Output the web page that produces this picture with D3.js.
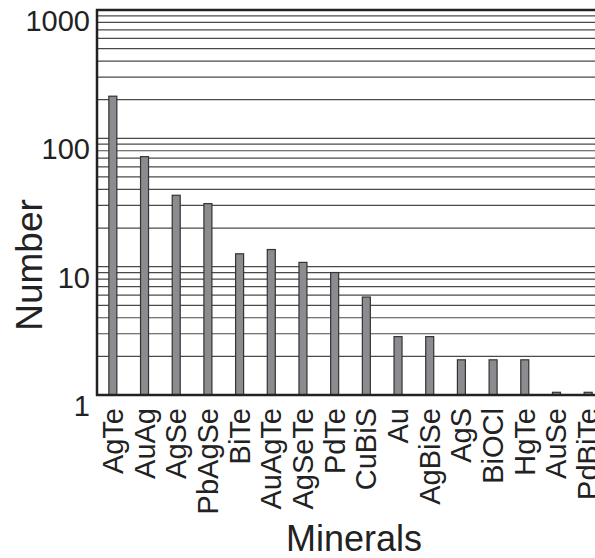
<!DOCTYPE html>
<html>
<head>
<meta charset="utf-8">
<script src="https://cdn.jsdelivr.net/npm/d3@7"></script>
<style>
	body { margin: 0; background: #fff; }
	svg text { font-family: 'Liberation Sans', Arial, sans-serif; fill: #222; }
</style>
</head>
<body>
<script>
const MINERALS = ['AgTe','AuAg','AgSe','PbAgSe','BiTe','AuAgTe','AgSeTe','PdTe','CuBiS','Au','AgBiSe','AgS','BiOCl','HgTe','AuSe','PdBiTe'];
const COUNTS = [213, 72, 36, 31, 12.6, 13.6, 10.8, 9, 5.8, 2.85, 2.85, 1.88, 1.88, 1.88, 1.05, 1.05];
const Y_TICKS = [1, 10, 100, 1000];

let svg = d3.select('body').append('svg')
	.attr('width', 595)
	.attr('height', 558);

let x = d3.scaleBand()
	.domain(MINERALS)
	.range([97, 604]);

let y = d3.scaleLog()
	.domain([1, 1000])
	.range([395, 10]);

// minor grid lines 1..1000
let gridValues = [];
for (let decade = 1; decade < 1000; decade *= 10) {
	for (let k = 2; k <= 10; k++) gridValues.push(k * decade);
}

svg.append('g')
	.selectAll('line')
	.data(gridValues)
	.enter()
	.append('line')
	.attr('x1', 97)
	.attr('x2', 595)
	.attr('y1', v => y(v))
	.attr('y2', v => y(v))
	.attr('stroke', '#4a4a4a')
	.attr('stroke-width', 1.2);

svg.append('g')
	.selectAll('rect')
	.data(MINERALS)
	.enter()
	.append('rect')
	.attr('x', m => x(m) + x.bandwidth() / 2 - 4)
	.attr('y', (m, i) => y(COUNTS[i]))
	.attr('width', 8)
	.attr('height', (m, i) => y(1) - y(COUNTS[i]))
	.attr('fill', '#8c8c90')
	.attr('stroke', '#333')
	.attr('stroke-width', 1.2);

// axis frame
svg.append('line')
	.attr('x1', 97).attr('x2', 97)
	.attr('y1', 9).attr('y2', 396)
	.attr('stroke', '#222').attr('stroke-width', 2.5);
svg.append('line')
	.attr('x1', 96).attr('x2', 595)
	.attr('y1', y(1)).attr('y2', y(1))
	.attr('stroke', '#222').attr('stroke-width', 2.5);
svg.append('line')
	.attr('x1', 96).attr('x2', 595)
	.attr('y1', y(1000)).attr('y2', y(1000))
	.attr('stroke', '#222').attr('stroke-width', 2.5);

svg.append('g')
	.selectAll('text')
	.data(Y_TICKS)
	.enter()
	.append('text')
	.attr('x', 90)
	.attr('y', v => y(v) + 21)
	.attr('text-anchor', 'end')
	.style('font-size', '29px')
	.text(v => v);

svg.append('g')
	.selectAll('text')
	.data(MINERALS)
	.enter()
	.append('text')
	.attr('transform', m => `translate(${x(m) + x.bandwidth() / 2 + 10}, 408) rotate(-90)`)
	.attr('text-anchor', 'end')
	.style('font-size', '29px')
	.text(m => m);

svg.append('text')
	.attr('transform', 'translate(42, 265) rotate(-90)')
	.attr('text-anchor', 'middle')
	.style('font-size', '37px')
	.text('Number');

svg.append('text')
	.attr('x', 354)
	.attr('y', 551)
	.attr('text-anchor', 'middle')
	.style('font-size', '36px')
	.text('Minerals');
</script>
</body>
</html>
